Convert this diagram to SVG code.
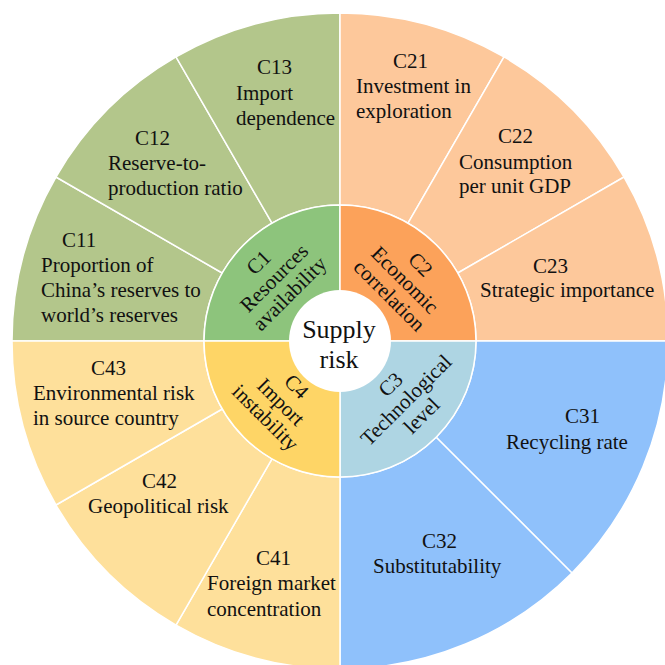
<svg xmlns="http://www.w3.org/2000/svg" width="665" height="665" viewBox="0 0 665 665">
  <style>
    .seg { stroke: #ffffff; stroke-width: 1.5; stroke-linejoin: round; }
    .lbl { font-family: "Liberation Serif", "Times New Roman", serif; font-size: 21px; fill: #111111; }
    .mid { text-anchor: middle; }
    .core { font-family: "Liberation Serif", "Times New Roman", serif; font-size: 26px; fill: #111111; text-anchor: middle; }
    .g1o { fill: #b3c68b; } .g1i { fill: #8dc47c; }
    .g2o { fill: #fdc89b; } .g2i { fill: #fca25a; }
    .g3o { fill: #8fc1fb; } .g3i { fill: #aed5e3; }
    .g4o { fill: #fee09b; } .g4i { fill: #fed566; }
  </style>

  <rect width="665" height="665" fill="#ffffff"/>

  <!-- Outer ring: indicator sectors, centre (340,341), radii 136..328 -->
  <g id="C11">
    <path class="seg g1o" d="M204,341 L12,341 A328,328 0 0 1 55.95,177 L222.22,273 A136,136 0 0 0 204,341 Z"/>
    <text class="lbl"><tspan x="62" y="247">C11</tspan><tspan x="41" y="272">Proportion of</tspan><tspan x="41" y="297">China’s reserves to</tspan><tspan x="41" y="322">world’s reserves</tspan></text>
  </g>
  <g id="C12">
    <path class="seg g1o" d="M222.22,273 L55.95,177 A328,328 0 0 1 176,56.95 L272,223.22 A136,136 0 0 0 222.22,273 Z"/>
    <text class="lbl"><tspan x="135" y="145">C12</tspan><tspan x="108" y="170">Reserve-to-</tspan><tspan x="108" y="195">production ratio</tspan></text>
  </g>
  <g id="C13">
    <path class="seg g1o" d="M272,223.22 L176,56.95 A328,328 0 0 1 340,13 L340,205 A136,136 0 0 0 272,223.22 Z"/>
    <text class="lbl"><tspan x="257" y="74">C13</tspan><tspan x="236" y="100">Import</tspan><tspan x="236" y="125">dependence</tspan></text>
  </g>

  <g id="C21">
    <path class="seg g2o" d="M340,205 L340,13 A328,328 0 0 1 504,56.95 L408,223.22 A136,136 0 0 0 340,205 Z"/>
    <text class="lbl"><tspan x="393" y="68">C21</tspan><tspan x="356" y="93">Investment in</tspan><tspan x="356" y="118">exploration</tspan></text>
  </g>
  <g id="C22">
    <path class="seg g2o" d="M408,223.22 L504,56.95 A328,328 0 0 1 624.05,177 L457.78,273 A136,136 0 0 0 408,223.22 Z"/>
    <text class="lbl"><tspan x="498" y="143">C22</tspan><tspan x="459" y="169">Consumption</tspan><tspan x="459" y="193">per unit GDP</tspan></text>
  </g>
  <g id="C23">
    <path class="seg g2o" d="M457.78,273 L624.05,177 A328,328 0 0 1 668,341 L476,341 A136,136 0 0 0 457.78,273 Z"/>
    <text class="lbl"><tspan x="533" y="273">C23</tspan><tspan x="480" y="297">Strategic importance</tspan></text>
  </g>

  <g id="C31">
    <path class="seg g3o" d="M476,341 L668,341 A328,328 0 0 1 571.93,572.93 L436.17,437.17 A136,136 0 0 0 476,341 Z"/>
    <text class="lbl"><tspan x="565" y="423">C31</tspan><tspan x="506" y="449">Recycling rate</tspan></text>
  </g>
  <g id="C32">
    <path class="seg g3o" d="M436.17,437.17 L571.93,572.93 A328,328 0 0 1 340,669 L340,477 A136,136 0 0 0 436.17,437.17 Z"/>
    <text class="lbl"><tspan x="422" y="548">C32</tspan><tspan x="373" y="573">Substitutability</tspan></text>
  </g>

  <g id="C41">
    <path class="seg g4o" d="M340,477 L340,669 A328,328 0 0 1 176,625.05 L272,458.78 A136,136 0 0 0 340,477 Z"/>
    <text class="lbl"><tspan x="256" y="565">C41</tspan><tspan x="207" y="590">Foreign market</tspan><tspan x="207" y="616">concentration</tspan></text>
  </g>
  <g id="C42">
    <path class="seg g4o" d="M272,458.78 L176,625.05 A328,328 0 0 1 55.95,505 L222.22,409 A136,136 0 0 0 272,458.78 Z"/>
    <text class="lbl"><tspan x="142" y="488">C42</tspan><tspan x="88" y="513">Geopolitical risk</tspan></text>
  </g>
  <g id="C43">
    <path class="seg g4o" d="M222.22,409 L55.95,505 A328,328 0 0 1 12,341 L204,341 A136,136 0 0 0 222.22,409 Z"/>
    <text class="lbl"><tspan x="91" y="375">C43</tspan><tspan x="33" y="400">Environmental risk</tspan><tspan x="33" y="425">in source country</tspan></text>
  </g>

  <!-- Inner ring: criteria quadrants, radius 136 -->
  <g id="C1">
    <path class="seg g1i" d="M340,341 L204,341 A136,136 0 0 1 340,205 Z"/>
    <text class="lbl mid" transform="translate(274,278) rotate(-45)"><tspan x="0" y="-15">C1</tspan><tspan x="0" y="7">Resources</tspan><tspan x="0" y="29">availability</tspan></text>
  </g>
  <g id="C2">
    <path class="seg g2i" d="M340,341 L340,205 A136,136 0 0 1 476,341 Z"/>
    <text class="lbl mid" transform="translate(405,280) rotate(45)"><tspan x="0" y="-15">C2</tspan><tspan x="0" y="7">Economic</tspan><tspan x="0" y="29">correlation</tspan></text>
  </g>
  <g id="C3">
    <path class="seg g3i" d="M340,341 L476,341 A136,136 0 0 1 340,477 Z"/>
    <text class="lbl mid" transform="translate(406,400) rotate(-45)"><tspan x="0" y="-15">C3</tspan><tspan x="0" y="7">Technological</tspan><tspan x="0" y="29">level</tspan></text>
  </g>
  <g id="C4">
    <path class="seg g4i" d="M340,341 L340,477 A136,136 0 0 1 204,341 Z"/>
    <text class="lbl mid" transform="translate(281,402) rotate(45)"><tspan x="0" y="-15">C4</tspan><tspan x="0" y="7">Import</tspan><tspan x="0" y="29">instability</tspan></text>
  </g>

  <!-- Hub -->
  <g id="supply-risk">
    <circle cx="340" cy="341" r="51" fill="#ffffff"/>
    <text class="core"><tspan x="339" y="338">Supply</tspan><tspan x="339" y="368">risk</tspan></text>
  </g>

  <!-- No connectors: sectors are separated by their own white outlines -->
  <g id="connectors"/>
</svg>
